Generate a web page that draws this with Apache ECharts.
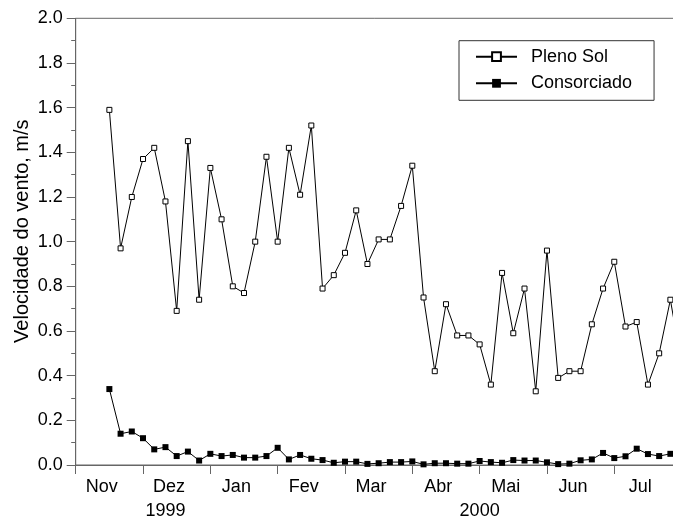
<!DOCTYPE html>
<html>
<head>
    <meta charset="utf-8"/>
    <script src="https://cdn.jsdelivr.net/npm/echarts@6/dist/echarts.min.js"></script>
    <style>
        body { margin: 0; background: #fff; }
    </style>
</head>
<body>
<div id="main" style="width: 673px;height:525px;"></div>
<script type="text/javascript">
    // meses do eixo x, cada mes dividido em 6 periodos (pentadas)
    var meses = ['Nov', 'Dez', 'Jan', 'Fev', 'Mar', 'Abr', 'Mai', 'Jun', 'Jul', 'Ago'];
    // rotulo de ano preso a um periodo
    var anos = {'Dez 3': '1999', 'Mai 1': '2000'};

    // velocidade do vento, m/s (a partir do periodo Nov 4)
    var plenoSol = [1.59, 0.97, 1.20, 1.37, 1.42, 1.18, 0.69, 1.45, 0.74, 1.33,
        1.10, 0.80, 0.77, 1.00, 1.38, 1.00, 1.42, 1.21, 1.52, 0.79,
        0.85, 0.95, 1.14, 0.90, 1.01, 1.01, 1.16, 1.34, 0.75, 0.42,
        0.72, 0.58, 0.58, 0.54, 0.36, 0.86, 0.59, 0.79, 0.33, 0.96,
        0.39, 0.42, 0.42, 0.63, 0.79, 0.91, 0.62, 0.64, 0.36, 0.50,
        0.74, 0.45];
    var consorciado = [0.34, 0.14, 0.15, 0.12, 0.07, 0.08, 0.04, 0.06, 0.02, 0.05,
        0.04, 0.045, 0.033, 0.033, 0.04, 0.077, 0.025, 0.045, 0.028, 0.022,
        0.01, 0.015, 0.015, 0.005, 0.008, 0.013, 0.013, 0.016, 0.003, 0.008,
        0.008, 0.006, 0.006, 0.018, 0.013, 0.01, 0.022, 0.02, 0.02, 0.012,
        0.004, 0.006, 0.021, 0.025, 0.054, 0.031, 0.039, 0.073, 0.049, 0.04,
        0.05, 0.05];

    var inicio = 3; // primeiro dado no 4o periodo de Nov

    var periodos = [];
    meses.forEach(function (m) {
        for (var k = 1; k <= 6; k++) periodos.push(m + ' ' + k);
    });
    periodos = periodos.slice(0, inicio + plenoSol.length);

    function serie(valores) {
        var d = [];
        for (var i = 0; i < inicio; i++) d.push('-');
        return d.concat(valores);
    }

    var fonte = 'Liberation Sans, Arial, sans-serif';
    var corEixo = '#666';

    var myChart = echarts.init(document.getElementById('main'));

    var option = {
        animation: false,
        textStyle: {fontFamily: fonte},
        grid: {
            left: 75.7, top: 18.3, bottom: 60, right: -8.6,
            outerBoundsMode: 'none',
            containLabel: false,
            show: true, borderColor: corEixo, borderWidth: 1
        },
        legend: {
            orient: 'vertical',
            left: 459, top: 40.7,
            padding: [7, 22, 8, 16],
            itemWidth: 41, itemHeight: 11, itemGap: 8.6,
            borderColor: '#333', borderWidth: 1,
            textStyle: {fontFamily: fonte, fontSize: 18, color: '#000', padding: [0, 0, 0, 9]},
            data: ['Pleno Sol', 'Consorciado']
        },
        xAxis: [
            {
                type: 'category',
                data: periodos,
                boundaryGap: false,
                axisLine: {lineStyle: {color: corEixo}},
                axisTick: {
                    length: 9,
                    interval: function (idx) { return idx % 6 === 0; },
                    lineStyle: {color: corEixo}
                },
                axisLabel: {
                    interval: function (idx) { return idx % 6 === 2; },
                    formatter: function (v) { return v.split(' ')[0]; },
                    fontSize: 18, color: '#000', margin: 13,
                    padding: [0, 0, 0, 7.2]
                },
                splitLine: {show: false}
            },
            {
                type: 'category',
                data: periodos,
                boundaryGap: false,
                position: 'bottom',
                axisLine: {show: false},
                axisTick: {show: false},
                axisLabel: {
                    interval: function (idx, v) { return anos[v] !== undefined; },
                    formatter: function (v) { return anos[v] || ''; },
                    fontSize: 18, color: '#000', margin: 37
                },
                splitLine: {show: false}
            }
        ],
        yAxis: {
            type: 'value',
            min: 0, max: 2, interval: 0.2,
            name: 'Velocidade do vento, m/s',
            nameLocation: 'middle',
            nameGap: 43,
            nameMoveOverlap: false,
            nameTextStyle: {fontSize: 20, color: '#000', fontFamily: fonte, padding: [0, 0, 0, 21]},
            axisLine: {show: true, lineStyle: {color: corEixo}},
            axisTick: {show: true, length: 9, lineStyle: {color: corEixo}},
            minorTick: {show: true, splitNumber: 2, length: 4.5, lineStyle: {color: corEixo}},
            axisLabel: {
                fontSize: 18, color: '#000', margin: 13,
                formatter: function (v) { return v.toFixed(1); }
            },
            splitLine: {show: false}
        },
        series: [
            {
                name: 'Pleno Sol',
                type: 'line',
                data: serie(plenoSol),
                symbol: 'rect',
                symbolSize: 5,
                showAllSymbol: true,
                lineStyle: {color: '#000', width: 1},
                itemStyle: {color: '#fff', borderColor: '#000', borderWidth: 1}
            },
            {
                name: 'Consorciado',
                type: 'line',
                data: serie(consorciado),
                symbol: 'rect',
                symbolSize: 6,
                showAllSymbol: true,
                lineStyle: {color: '#000', width: 1},
                itemStyle: {color: '#000', borderColor: '#000', borderWidth: 0}
            }
        ]
    };

    myChart.setOption(option);
</script>
</body>
</html>
